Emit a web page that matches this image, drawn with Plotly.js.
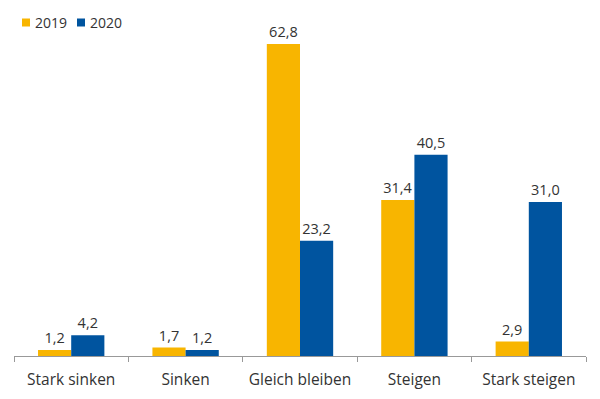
<!DOCTYPE html>
<html><head><meta charset="utf-8">
<script src="https://cdn.plot.ly/plotly-3.0.1.min.js"></script>
<style>body{margin:0}#c{width:600px;height:399px}</style>
</head><body><div id="c"></div>
<script>
const categories = ["Stark sinken","Sinken","Gleich bleiben","Steigen","Stark steigen"];
const seriesNames = ["2019","2020"];
const v2019 = [1.2, 1.7, 62.8, 31.4, 2.9];
const v2020 = [4.2, 1.2, 23.2, 40.5, 31.0];
const colors = ["#F8B500","#00549F"];
const font = {family:"Open Sans, Noto Sans, sans-serif", size:14, color:"#333"};

const W = 600, H = 399, M = {l:14, r:14, t:30, b:43};
const pw = W - M.l - M.r, ph = H - M.t - M.b;
const px2x = p => (p - M.l) / pw;
const px2y = p => (H - M.b - p) / ph;

const mk = (name, y, color) => ({
  type:"bar", name, x:categories, y,
  marker:{color}, showlegend:false,
  text:y, texttemplate:"%{y:.1f}", textposition:"outside",
  textfont:{family:font.family, size:14.5, color:"#333"},
  cliponaxis:false, hoverinfo:"skip"
});

// legend drawn as layout items (compact spacing like the reference)
const legendLeft = [22, 77];
const shapes = seriesNames.map((n, i) => ({
  type:"rect", xref:"paper", yref:"paper",
  x0:px2x(legendLeft[i]), x1:px2x(legendLeft[i] + 8),
  y0:px2y(26.5), y1:px2y(18.5),
  fillcolor:colors[i], line:{width:0}
}));
const annotations = seriesNames.map((n, i) => ({
  xref:"paper", yref:"paper", x:px2x(legendLeft[i] + 11), y:px2y(22.5),
  xanchor:"left", yanchor:"middle", showarrow:false, text:n,
  font:{family:font.family, size:14, color:"#333"}
}));

Plotly.newPlot("c", [mk(seriesNames[0], v2019, colors[0]), mk(seriesNames[1], v2020, colors[1])], {
  width:W, height:H,
  margin:M,
  separators:",.",
  barmode:"group", bargap:0.42, bargroupgap:0,
  font,
  paper_bgcolor:"#fff", plot_bgcolor:"#fff",
  showlegend:false,
  shapes, annotations,
  xaxis:{showline:true, linecolor:"#999", linewidth:1, ticks:"outside", tickson:"boundaries", ticklen:5, tickcolor:"#999",
    tickfont:{family:font.family, size:15.5, color:"#333"}, ticklabelstandoff:9, fixedrange:true},
  yaxis:{visible:false, range:[0,65.6], showgrid:false, zeroline:false}
}, {displayModeBar:false, staticPlot:true});
</script></body></html>
